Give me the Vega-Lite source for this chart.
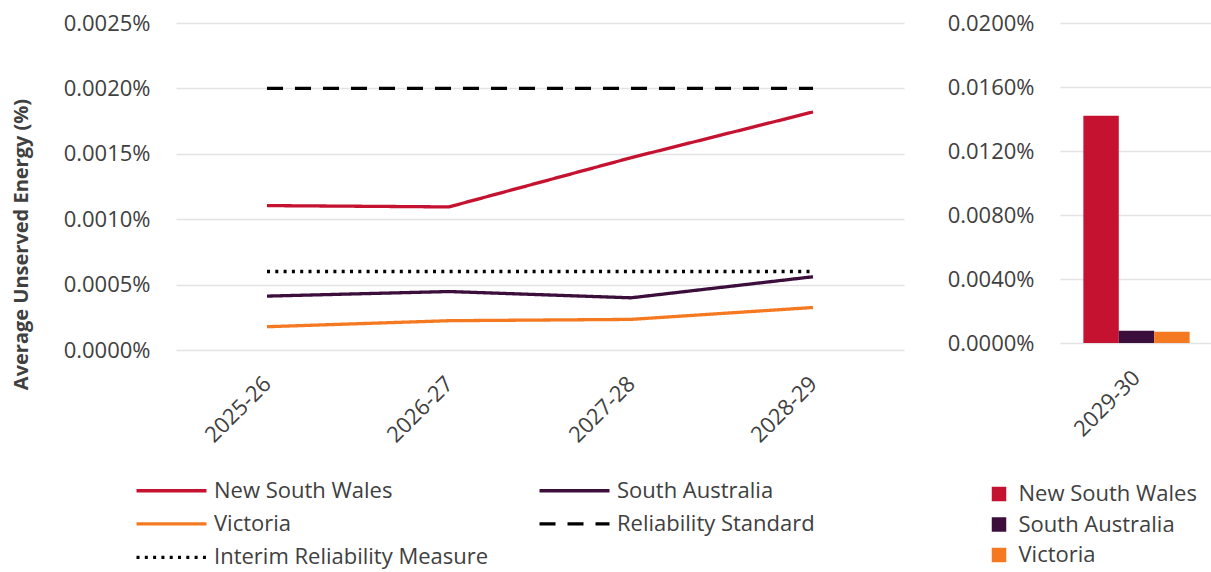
{
  "$schema": "https://vega.github.io/schema/vega-lite/v6.json",
  "padding": {"left": 11, "top": 12, "right": 0, "bottom": 0},
  "background": "#ffffff",
  "config": {
    "font": "Open Sans",
    "view": {"stroke": null},
    "axis": {
      "labelFont": "Open Sans",
      "labelFontSize": 22,
      "labelColor": "#404040",
      "labelFontWeight": 400,
      "domain": false,
      "ticks": false,
      "gridColor": "#e3e3e3",
      "gridWidth": 1.5,
      "titleFont": "Open Sans",
      "titleColor": "#404040"
    },
    "legend": {
      "labelFont": "Open Sans",
      "labelFontSize": 22,
      "labelFontWeight": 400,
      "labelColor": "#404040",
      "labelLimit": 500,
      "padding": 0
    }
  },
  "datasets": {
    "lines": [
      {"year": "2025-26", "series": "New South Wales", "value": 0.001104},
      {"year": "2026-27", "series": "New South Wales", "value": 0.001094},
      {"year": "2027-28", "series": "New South Wales", "value": 0.00147},
      {"year": "2028-29", "series": "New South Wales", "value": 0.00182},
      {"year": "2025-26", "series": "South Australia", "value": 0.000412},
      {"year": "2026-27", "series": "South Australia", "value": 0.000447},
      {"year": "2027-28", "series": "South Australia", "value": 0.000399},
      {"year": "2028-29", "series": "South Australia", "value": 0.00056},
      {"year": "2025-26", "series": "Victoria", "value": 0.000178},
      {"year": "2026-27", "series": "Victoria", "value": 0.000224},
      {"year": "2027-28", "series": "Victoria", "value": 0.000234},
      {"year": "2028-29", "series": "Victoria", "value": 0.000325},
      {"year": "2025-26", "series": "Reliability Standard", "value": 0.002},
      {"year": "2026-27", "series": "Reliability Standard", "value": 0.002},
      {"year": "2027-28", "series": "Reliability Standard", "value": 0.002},
      {"year": "2028-29", "series": "Reliability Standard", "value": 0.002},
      {"year": "2025-26", "series": "Interim Reliability Measure", "value": 0.0006},
      {"year": "2026-27", "series": "Interim Reliability Measure", "value": 0.0006},
      {"year": "2027-28", "series": "Interim Reliability Measure", "value": 0.0006},
      {"year": "2028-29", "series": "Interim Reliability Measure", "value": 0.0006}
    ],
    "bars": [
      {"year": "2029-30", "region": "New South Wales", "value": 0.01421},
      {"year": "2029-30", "region": "South Australia", "value": 0.00077},
      {"year": "2029-30", "region": "Victoria", "value": 0.00071}
    ]
  },
  "hconcat": [
    {
      "width": 728,
      "height": 327,
      "data": {"name": "lines"},
      "mark": {"type": "line", "strokeWidth": 3.3},
      "encoding": {
        "x": {
          "field": "year", "type": "nominal",
          "scale": {"paddingInner": 0, "paddingOuter": 0},
          "axis": {"title": null, "labelAngle": -45, "labelAlign": "right", "labelBaseline": "middle", "labelPadding": 30, "grid": false}
        },
        "y": {
          "field": "value", "type": "quantitative",
          "scale": {"domain": [0, 0.0025]},
          "axis": {
            "values": [0, 0.0005, 0.001, 0.0015, 0.002, 0.0025],
            "labelExpr": "format(datum.value, '.4f') + '%'",
            "labelPadding": 26,
            "title": "Average Unserved Energy (%)",
            "titleFontSize": 20,
            "titleFontWeight": "bold",
            "titlePadding": 32,
            "titleY": 221
          }
        },
        "color": {
          "field": "series", "type": "nominal",
          "scale": {
            "domain": ["New South Wales", "South Australia", "Victoria", "Reliability Standard", "Interim Reliability Measure"],
            "range": ["#C41230", "#3B0E3B", "#F47920", "#000000", "#000000"]
          },
          "legend": {
            "title": null,
            "orient": "none",
            "direction": "horizontal",
            "legendX": -18,
            "legendY": 454,
            "columns": 2,
            "columnPadding": 43,
            "rowPadding": 8.4,
            "symbolType": "M-3,0H3",
            "symbolSize": 544,
            "symbolStrokeWidth": 3.3,
            "labelOffset": 29,
            "encode": {
              "symbols": {
                "update": {
                  "strokeDash": {"signal": "datum.value === 'Reliability Standard' ? [16, 12] : datum.value === 'Interim Reliability Measure' ? [3, 5.3] : [1, 0]"}
                }
              }
            }
          }
        },
        "strokeDash": {
          "field": "series", "type": "nominal",
          "scale": {
            "domain": ["New South Wales", "South Australia", "Victoria", "Reliability Standard", "Interim Reliability Measure"],
            "range": [[1, 0], [1, 0], [1, 0], [16, 12], [3, 5.3]]
          },
          "legend": null
        }
      }
    },
    {
      "width": 153,
      "height": 320,
      "data": {"name": "bars"},
      "mark": {"type": "bar"},
      "encoding": {
        "x": {
          "field": "year", "type": "nominal",
          "scale": {"paddingInner": 0, "paddingOuter": 0.22},
          "axis": {"title": null, "labelAngle": -45, "labelAlign": "right", "labelBaseline": "middle", "labelPadding": 31, "grid": false}
        },
        "xOffset": {
          "field": "region", "type": "nominal",
          "scale": {"paddingInner": 0, "paddingOuter": 0}
        },
        "y": {
          "field": "value", "type": "quantitative",
          "scale": {"domain": [0, 0.02]},
          "axis": {
            "values": [0, 0.004, 0.008, 0.012, 0.016, 0.02],
            "labelExpr": "format(datum.value, '.4f') + '%'",
            "labelPadding": 26,
            "title": null
          }
        },
        "color": {
          "field": "region", "type": "nominal",
          "scale": {
            "domain": ["New South Wales", "South Australia", "Victoria"],
            "range": ["#C41230", "#3B0E3B", "#F47920"]
          },
          "legend": {
            "title": null,
            "orient": "none",
            "legendX": -72,
            "legendY": 460,
            "rowPadding": 8.5,
            "symbolType": "square",
            "symbolSize": 210,
            "symbolStrokeWidth": 0,
            "labelOffset": 8.5
          }
        }
      }
    }
  ],
  "spacing": 43,
  "resolve": {"scale": {"color": "independent", "x": "independent", "y": "independent"}, "legend": {"color": "independent"}}
}
